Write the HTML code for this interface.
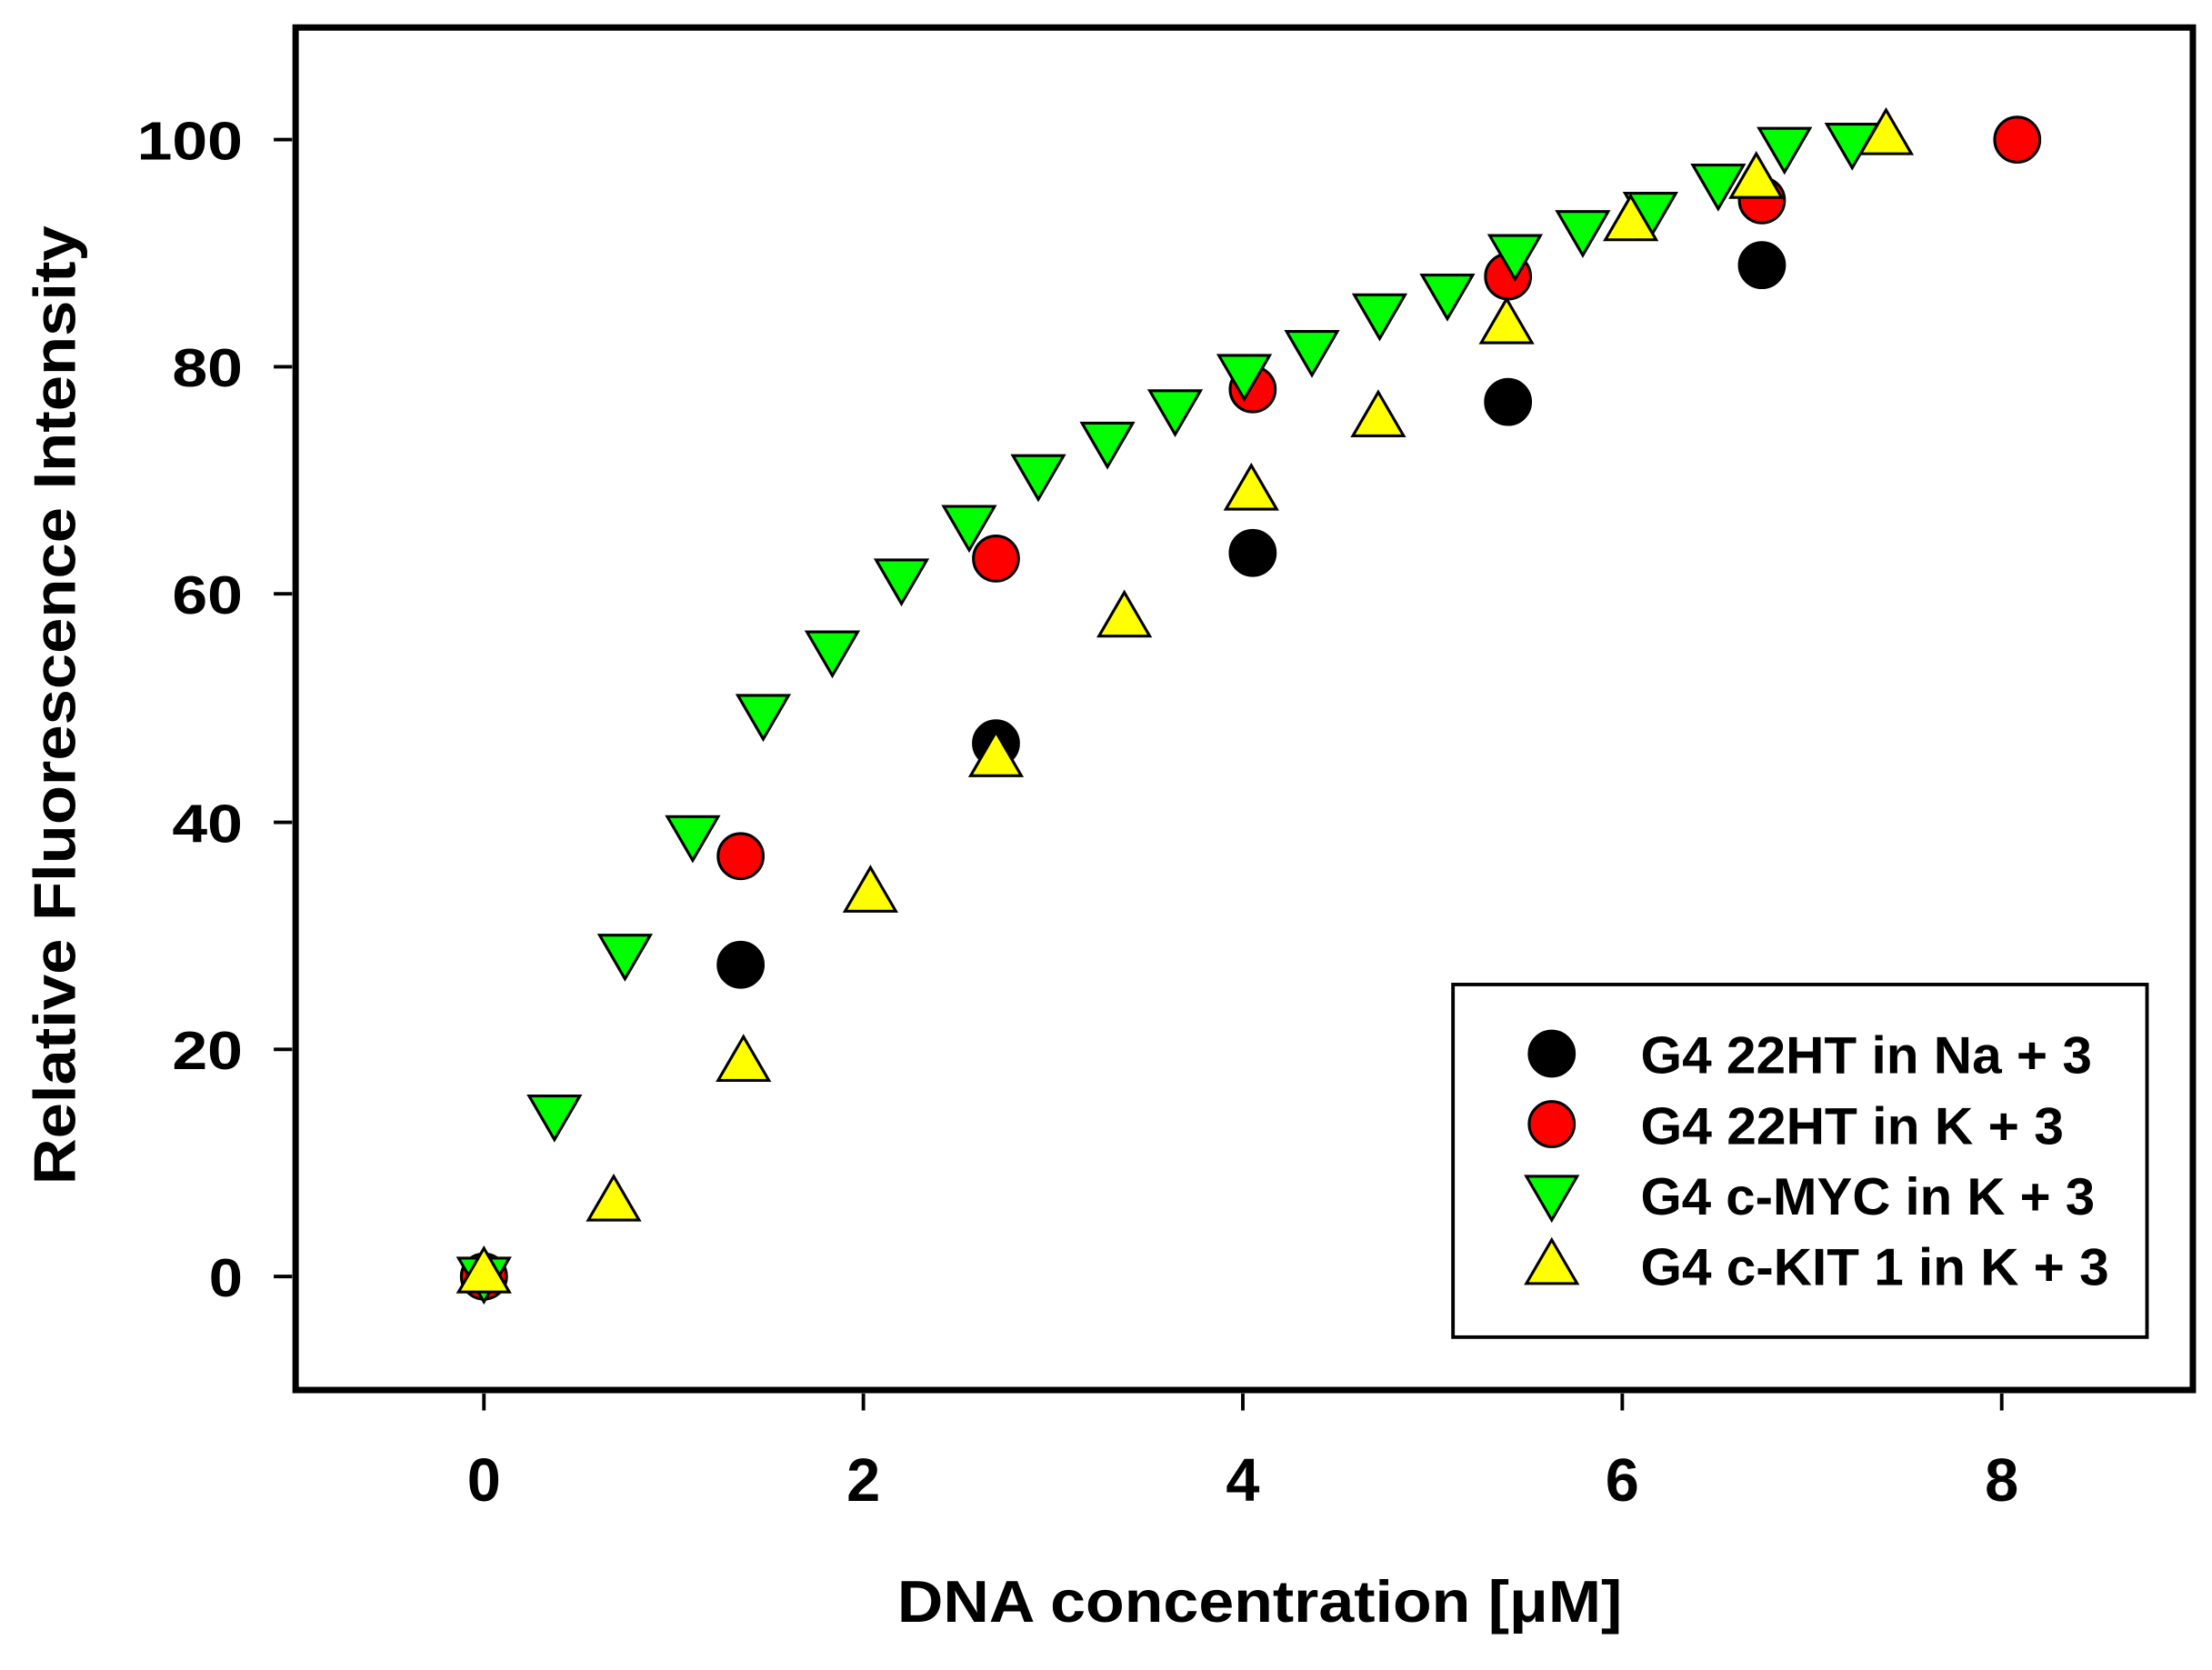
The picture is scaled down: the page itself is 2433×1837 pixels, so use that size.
<!DOCTYPE html>
<html><head><meta charset="utf-8"><style>html,body{margin:0;padding:0;background:#fff}svg{display:block}</style></head>
<body>
<svg width="2433" height="1837" viewBox="0 0 1568 1184" xmlns="http://www.w3.org/2000/svg" font-family="Liberation Sans, Arial, sans-serif" font-weight="bold">
<rect width="1568" height="1184" fill="#fff"/>
<rect x="209.5" y="19.5" width="1345" height="966" fill="none" stroke="#000" stroke-width="4.5"/>
<g stroke="#000" stroke-width="2.5">
<line x1="343" y1="988" x2="343" y2="1000"/><line x1="612" y1="988" x2="612" y2="1000"/>
<line x1="881" y1="988" x2="881" y2="1000"/><line x1="1150" y1="988" x2="1150" y2="1000"/>
<line x1="1419" y1="988" x2="1419" y2="1000"/>
<line x1="194" y1="905" x2="207" y2="905"/><line x1="194" y1="744" x2="207" y2="744"/>
<line x1="194" y1="583" x2="207" y2="583"/><line x1="194" y1="421" x2="207" y2="421"/>
<line x1="194" y1="260" x2="207" y2="260"/><line x1="194" y1="99" x2="207" y2="99"/>
</g>
<g font-size="43" text-anchor="middle">
<text x="343" y="1064">0</text><text x="612" y="1064">2</text><text x="881" y="1064">4</text><text x="1150" y="1064">6</text><text x="1419" y="1064">8</text>
</g>
<g font-size="38" text-anchor="end">
<text x="172" y="919" textLength="24" lengthAdjust="spacingAndGlyphs">0</text>
<text x="172" y="758" textLength="50" lengthAdjust="spacingAndGlyphs">20</text>
<text x="172" y="597" textLength="50" lengthAdjust="spacingAndGlyphs">40</text>
<text x="172" y="435" textLength="50" lengthAdjust="spacingAndGlyphs">60</text>
<text x="172" y="274" textLength="50" lengthAdjust="spacingAndGlyphs">80</text>
<text x="172" y="113" textLength="75" lengthAdjust="spacingAndGlyphs">100</text>
</g>
<text x="893" y="1150" font-size="42" text-anchor="middle" textLength="514" lengthAdjust="spacingAndGlyphs">DNA concentration [μM]</text>
<text transform="translate(53,500) rotate(-90)" font-size="42" text-anchor="middle" textLength="680" lengthAdjust="spacingAndGlyphs">Relative Fluorescence Intensity</text>
<defs>
<circle id="c" r="16" stroke="#000" stroke-width="2"/>
<polygon id="d" points="-18,-13 18,-13 0,18" stroke="#000" stroke-width="2"/>
<polygon id="u" points="-18,13 18,13 0,-18" stroke="#000" stroke-width="2"/>
</defs>
<g fill="#000">
<use href="#c" x="343" y="905"/><use href="#c" x="525" y="684"/><use href="#c" x="706" y="527"/><use href="#c" x="888" y="392"/><use href="#c" x="1069" y="285"/><use href="#c" x="1249" y="188"/>
</g>
<g fill="#ff0000">
<use href="#c" x="343" y="905"/><use href="#c" x="525" y="607"/><use href="#c" x="706" y="396"/><use href="#c" x="888" y="276"/><use href="#c" x="1069" y="196"/><use href="#c" x="1249" y="142"/><use href="#c" x="1430" y="99"/>
</g>
<g fill="#00ff00">
<use href="#d" x="343" y="905"/><use href="#d" x="393" y="790"/><use href="#d" x="443" y="676"/><use href="#d" x="491" y="592"/><use href="#d" x="541" y="506"/><use href="#d" x="590" y="461"/><use href="#d" x="639" y="410"/><use href="#d" x="687" y="372"/><use href="#d" x="736" y="336"/><use href="#d" x="785" y="313"/><use href="#d" x="833" y="290"/><use href="#d" x="882" y="265"/><use href="#d" x="930" y="248"/><use href="#d" x="978" y="222"/><use href="#d" x="1026" y="208"/><use href="#d" x="1074" y="180"/><use href="#d" x="1122" y="163"/><use href="#d" x="1170" y="150"/><use href="#d" x="1218" y="130"/><use href="#d" x="1265" y="104"/><use href="#d" x="1313" y="101"/>
</g>
<g fill="#ffff00">
<use href="#u" x="343" y="903"/><use href="#u" x="435" y="852"/><use href="#u" x="527" y="753"/><use href="#u" x="617" y="633"/><use href="#u" x="706" y="537"/><use href="#u" x="797" y="438"/><use href="#u" x="887" y="348"/><use href="#u" x="977" y="296"/><use href="#u" x="1068" y="230"/><use href="#u" x="1156" y="157"/><use href="#u" x="1245" y="127"/><use href="#u" x="1337" y="96"/>
</g>
<rect x="1030" y="698" width="492" height="250" fill="#fff" stroke="#000" stroke-width="2.5"/>
<use href="#c" x="1100" y="747" fill="#000"/>
<use href="#c" x="1100" y="797" fill="#ff0000"/>
<use href="#d" x="1100" y="847" fill="#00ff00"/>
<use href="#u" x="1100" y="897" fill="#ffff00"/>
<g font-size="37">
<text x="1163" y="761" textLength="320" lengthAdjust="spacingAndGlyphs">G4 22HT in Na + 3</text>
<text x="1163" y="811" textLength="300" lengthAdjust="spacingAndGlyphs">G4 22HT in K + 3</text>
<text x="1163" y="861" textLength="322" lengthAdjust="spacingAndGlyphs">G4 c-MYC in K + 3</text>
<text x="1163" y="911" textLength="332" lengthAdjust="spacingAndGlyphs">G4 c-KIT 1 in K + 3</text>
</g>
</svg>
</body></html>
